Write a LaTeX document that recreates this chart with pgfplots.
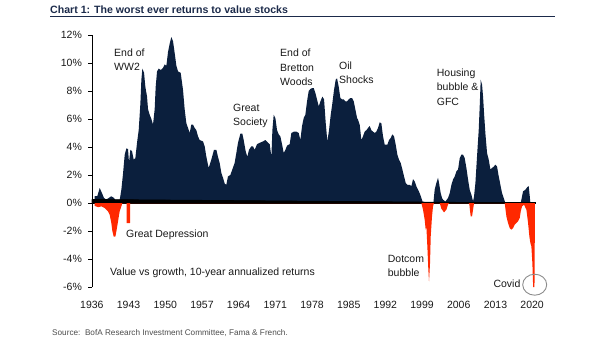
\documentclass[border=0pt]{standalone}
\usepackage{pgfplots}
\pgfplotsset{compat=1.18}
\usepackage{fontspec}
\setmainfont{Liberation Sans}
\definecolor{navy}{HTML}{0B1F3D}
\definecolor{bred}{HTML}{FF2800}
\definecolor{ttl}{HTML}{1B2A4A}
\newcommand\lab[3]{\node[anchor=base west, inner sep=0pt, font=\fontsize{10.5}{12}\selectfont, text=black!90] at ({#1pt},{341pt-#2pt}) {#3};}
\begin{document}
\begin{tikzpicture}
\path[use as bounding box] (0pt,0pt) rectangle (605pt,341pt);
\begin{axis}[
  at={(91.9pt,54pt)}, anchor=south west, scale only axis,
  width=444.4pt, height=252pt,
  xmin=1936, xmax=2020.8, ymin=-6, ymax=12,
  axis y line*=left, axis x line*=bottom,
  x axis line style={draw=none},
  xtick style={draw=none},
  y axis line style={black, line width=0.8pt},
  ytick style={black, line width=0.8pt},
  tick align=outside, major tick length=3.5pt,
  ytick={-6,-4,...,12},
  xtick={1936,1943,1950,1957,1964,1971,1978,1985,1992,1999,2006,2013,2020},
  /pgf/number format/assume math mode=true,
  /pgf/number format/1000 sep={},
  yticklabel={\pgfmathprintnumber{\tick}\%},
  ticklabel style={font=\fontsize{10.5}{12}\selectfont, text=black!90},
  xticklabel style={yshift=-7pt},
  yticklabel style={xshift=-3pt},
]
\addplot[fill=navy, draw=none] coordinates {
(1936.5,0)(1936.53,0.48)(1937.04,0.5)(1937.49,1.07)(1937.93,0.7)(1938.31,0.36)(1938.76,0.24)(1939.20,0.36)(1939.71,0.48)(1940.22,0.36)(1940.67,0.1)(1941.11,0)(1941.30,0.2)(1941.62,0.95)(1941.94,2.1)(1942.26,3.45)(1942.58,3.9)(1942.89,3.85)(1943.08,2.9)(1943.34,3.8)(1943.66,3.7)(1943.97,3.1)(1944.29,3.2)(1944.61,4.3)(1944.93,5.2)(1945.25,7.1)(1945.44,8.8)(1945.63,9.6)(1945.95,9.3)(1946.20,8.3)(1946.52,7.6)(1946.71,6.7)(1947.03,6.3)(1947.35,6.0)(1947.66,5.6)(1947.98,6.7)(1948.17,8.3)(1948.43,9.4)(1948.75,9.6)(1949.13,9.5)(1949.57,9.65)(1949.89,9.9)(1950.21,9.8)(1950.53,10.8)(1950.85,11.4)(1951.16,11.85)(1951.48,11.55)(1951.80,10.7)(1952.12,9.8)(1952.44,9.4)(1952.94,9.3)(1953.38,8.1)(1953.70,6.7)(1954.02,5.7)(1954.34,5.36)(1954.66,5.0)(1954.97,5.6)(1955.29,5.6)(1955.61,5.36)(1955.93,5.2)(1956.25,4.76)(1956.56,4.5)(1957.20,4.4)(1957.52,4.05)(1957.84,3.3)(1958.28,2.5)(1958.79,3.1)(1959.30,3.8)(1959.75,3.8)(1960.06,3.3)(1960.38,2.86)(1960.70,2.14)(1961.02,1.8)(1961.34,1.38)(1961.65,1.3)(1961.97,1.9)(1962.42,2.0)(1962.80,2.4)(1963.24,2.86)(1963.56,3.57)(1963.88,4.3)(1964.33,4.95)(1964.71,4.95)(1964.96,4.5)(1965.34,3.7)(1965.66,3.3)(1965.98,3.8)(1966.42,4.05)(1966.74,4.05)(1967.06,3.8)(1967.51,4.2)(1968.02,4.3)(1968.65,4.4)(1969.10,4.5)(1969.61,4.3)(1969.93,4.2)(1970.25,3.3)(1970.44,5.2)(1970.69,6.3)(1971.01,6.07)(1971.33,5.2)(1971.65,4.9)(1971.96,4.76)(1972.28,4.2)(1972.60,3.57)(1972.92,3.8)(1973.24,4.1)(1973.74,4.2)(1974.06,5.0)(1974.57,5.1)(1975.02,5.1)(1975.46,5.0)(1975.78,4.5)(1976.10,5.5)(1976.42,6.07)(1976.73,6.3)(1977.05,7.26)(1977.37,8.0)(1977.69,8.14)(1978.01,8.2)(1978.33,8.2)(1978.64,7.86)(1978.96,7.4)(1979.28,6.9)(1979.60,7.26)(1979.98,7.6)(1980.30,7.4)(1980.62,5.7)(1980.93,4.4)(1981.25,5.2)(1981.57,6.3)(1981.89,7.14)(1982.21,8.1)(1982.52,8.8)(1982.78,8.9)(1983.10,8.3)(1983.41,7.5)(1983.73,7.4)(1984.05,7.4)(1984.37,7.26)(1984.69,7.26)(1985.00,7.4)(1985.32,7.5)(1985.64,7.5)(1985.96,7.26)(1986.28,6.67)(1986.60,6.07)(1986.78,5.95)(1987.10,5.6)(1987.42,4.5)(1987.73,4.76)(1988.05,5.1)(1988.37,5.2)(1988.69,5.36)(1989.01,5.5)(1989.32,5.2)(1989.64,5.1)(1989.96,5.0)(1990.28,5.1)(1990.60,5.36)(1990.91,5.76)(1991.23,5.7)(1991.55,4.76)(1991.87,4.17)(1992.38,4.17)(1992.70,4.5)(1993.01,4.64)(1993.33,4.9)(1993.65,4.76)(1993.97,4.17)(1994.29,3.45)(1994.60,3.1)(1994.92,2.86)(1995.24,2.4)(1995.56,1.9)(1995.88,1.43)(1996.19,1.3)(1996.64,1.3)(1996.96,1.2)(1997.28,1.7)(1997.59,1.55)(1997.91,1.2)(1998.23,0.95)(1998.55,0.7)(1998.87,0.36)(1999.18,0)(2001.16,0)(2001.41,0.95)(2001.73,1.43)(2002.05,1.8)(2002.24,1.43)(2002.56,0.7)(2002.81,0.36)(2003.00,0.24)(2003.45,0.1)(2003.96,0.36)(2004.28,0.7)(2004.60,1.3)(2004.91,1.67)(2005.23,1.9)(2005.55,2.26)(2005.87,2.4)(2006.19,3.2)(2006.50,3.45)(2006.82,3.45)(2007.14,3.2)(2007.46,2.5)(2007.78,1.67)(2008.09,0.95)(2008.41,0.6)(2008.73,0.12)(2008.92,0.48)(2009.18,1.43)(2009.49,3.33)(2009.81,5.2)(2010.00,6.9)(2010.19,8.8)(2010.45,8.45)(2010.64,7.6)(2010.83,6.4)(2011.08,5.0)(2011.40,3.57)(2011.72,3.1)(2012.04,2.4)(2012.36,2.5)(2012.68,2.6)(2012.99,2.74)(2013.31,2.6)(2013.63,1.9)(2013.95,1.3)(2014.27,0.7)(2014.58,0.36)(2014.90,0)(2017.83,0)(2018.08,0.48)(2018.27,0.83)(2018.72,0.95)(2019.10,1.14)(2019.35,1.2)(2019.55,0.48)(2019.67,0)
} \closedcycle;
\addplot[black, line width=1.6pt, mark=none] coordinates {(1936,0)(2020.8,0)};
\pgfplotsinvokeforeach{1943,1950,1957,1964,1971,1978,1985,1992,1999,2006,2013,2020}{
  \draw[black, line width=0.8pt] (axis cs:#1,0) -- ++(0,-4pt);
}
\addplot[fill=bred, draw=none] coordinates {
(1936.5,0)(1936.53,-0.2)(1937.17,-0.3)(1937.80,-0.24)(1938.44,-0.36)(1938.76,-0.48)(1939.08,-0.6)(1939.39,-0.83)(1939.71,-1.43)(1939.90,-2.0)(1940.16,-2.4)(1940.48,-2.4)(1940.73,-1.9)(1940.99,-1.3)(1941.30,-0.6)(1941.62,-0.24)(1941.81,0)(1942.62,0)(1942.63,-1.43)(1943.27,-1.43)(1943.28,0)(1998.87,0)(1999.18,-0.48)(1999.50,-1.2)(1999.69,-1.9)(1999.82,-1.67)(2000.01,-3.1)(2000.20,-4.76)(2000.33,-5.6)(2000.52,-4.3)(2000.65,-2.4)(2000.90,-0.95)(2001.09,-0.24)(2001.28,0)(2002.37,0)(2002.68,-0.4)(2003.19,-0.67)(2003.64,-0.48)(2003.96,-0.1)(2004.21,0)(2007.90,0)(2008.03,-0.1)(2008.16,-0.6)(2008.29,-0.95)(2008.54,-0.95)(2008.73,-0.48)(2008.92,0)(2014.77,0)(2015.09,-0.95)(2015.41,-1.43)(2015.73,-1.8)(2016.05,-1.9)(2016.36,-1.8)(2016.68,-1.55)(2017.00,-1.43)(2017.32,-1.3)(2017.64,-1.07)(2017.83,-0.6)(2018.08,-0.24)(2018.46,-0.12)(2018.91,-0.48)(2019.23,-1.43)(2019.48,-2.4)(2019.67,-2.86)(2019.86,-3.1)(2020.05,-4.3)(2020.2,-6.0)(2020.45,-6.0)(2020.55,0)
} \closedcycle;
\end{axis}
% title and source
\node[anchor=base west, inner sep=0pt, font=\bfseries\fontsize{10.6}{12}\selectfont, text=ttl] at (50pt,{341pt-13.6pt}) {Chart 1: The worst ever returns to value stocks};
\draw[ttl, line width=0.5pt] (50pt,{341pt-16pt}) -- (555pt,{341pt-16pt});
\node[anchor=base west, inner sep=0pt, font=\fontsize{8.2}{10}\selectfont, text=black!70] at (52pt,{341pt-335pt}) {Source:\ \ BofA Research Investment Committee, Fama \& French.};
% annotations
\lab{114}{56.8}{End of}
\lab{114}{70.8}{WW2}
\lab{126}{237}{Great Depression}
\lab{110}{275}{Value vs growth, 10-year annualized returns}
\lab{233}{111}{Great}
\lab{233}{125.5}{Society}
\lab{280}{56.5}{End of}
\lab{280}{71}{Bretton}
\lab{280}{85.5}{Woods}
\lab{339}{69}{Oil}
\lab{339}{83.3}{Shocks}
\lab{436.7}{76}{Housing}
\lab{436.7}{90.5}{bubble \&}
\lab{436.7}{105}{GFC}
\lab{387.7}{262.3}{Dotcom}
\lab{387.7}{276.7}{bubble}
\lab{493.3}{287}{Covid}
\draw[black!45, line width=0.9pt] (534.7pt,{341pt-284.7pt}) ellipse (12pt and 10.5pt);
\end{tikzpicture}
\end{document}
